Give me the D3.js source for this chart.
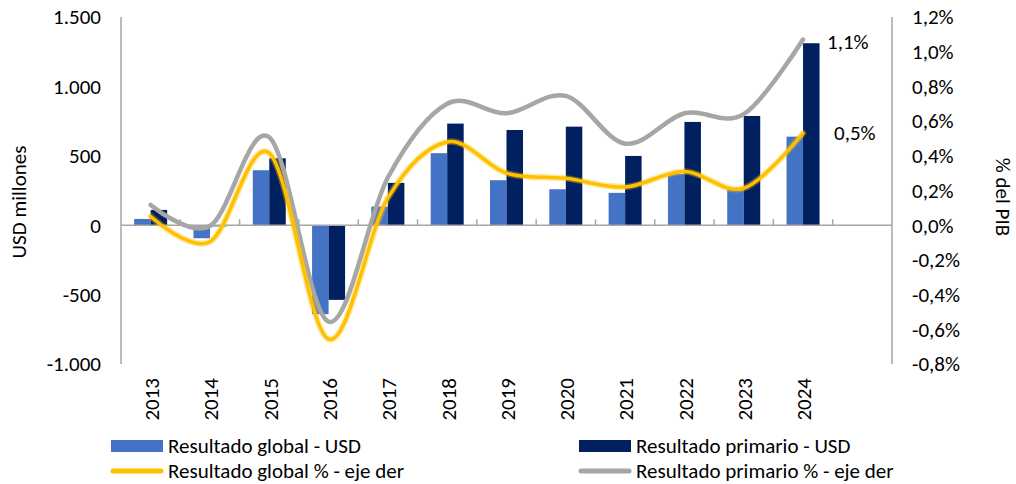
<!DOCTYPE html>
<html>
<head>
<meta charset="utf-8">
<script src="https://cdn.jsdelivr.net/npm/d3@7"></script>
<style>
    body { margin: 0; background: #fff; }
    text { font-family: Carlito, Lato, sans-serif; fill: #000; }
</style>
</head>
<body>
<svg width="1016" height="484"></svg>
<script>
// categories (last slot is empty in the original)
var years = ["2013", "2014", "2015", "2016", "2017", "2018", "2019", "2020", "2021", "2022", "2023", "2024", ""];
// USD millones
var globalUsd = [45, -94, 396, -641, 134, 519, 324, 259, 233, 370, 254, 638];
var primarioUsd = [110, -8, 482, -538, 305, 732, 686, 710, 499, 744, 787, 1311];
// % del PIB
var globalPct = [0.05, -0.095, 0.415, -0.657, 0.157, 0.48, 0.30, 0.27, 0.22, 0.31, 0.213, 0.53];
var primarioPct = [0.117, -0.005, 0.507, -0.556, 0.275, 0.70, 0.645, 0.745, 0.47, 0.645, 0.64, 1.07];

var leftTicks = [-1000, -500, 0, 500, 1000, 1500];
var rightTicks = [-0.8, -0.6, -0.4, -0.2, 0, 0.2, 0.4, 0.6, 0.8, 1.0, 1.2];

var colGlobal = "#4472c4", colPrim = "#002060", colYellow = "#ffc000", colGray = "#a6a6a6";

var svg = d3.select("svg");
var plotLeft = 121, plotRight = 892, plotTop = 17, plotBottom = 364;
var fs = "21px";

var x = d3.scaleBand().domain(years.map(function(d, i) { return i; })).range([plotLeft, plotRight]);
var yL = d3.scaleLinear().domain([-1000, 1500]).range([plotBottom, plotTop]);
var yR = d3.scaleLinear().domain([-0.8, 1.2]).range([plotBottom, plotTop]);
var bw = 16.5;

// spanish style numbers, plain hyphen for negatives
function fmtNum(v) {
    return d3.format(",")(v).replace(/,/g, ".").replace("\u2212", "-");
}
function fmtPct(v) {
    return d3.format(".1f")(v).replace(".", ",").replace("\u2212", "-") + "%";
}

// bars
svg.append("g").selectAll("rect")
    .data(globalUsd)
    .enter().append("rect")
    .attr("x", function(d, i) { return x(i) + x.bandwidth() / 2 - bw; })
    .attr("width", bw)
    .attr("y", function(d) { return yL(Math.max(0, d)); })
    .attr("height", function(d) { return Math.abs(yL(d) - yL(0)); })
    .attr("fill", colGlobal);

svg.append("g").selectAll("rect")
    .data(primarioUsd)
    .enter().append("rect")
    .attr("x", function(d, i) { return x(i) + x.bandwidth() / 2; })
    .attr("width", bw)
    .attr("y", function(d) { return yL(Math.max(0, d)); })
    .attr("height", function(d) { return Math.abs(yL(d) - yL(0)); })
    .attr("fill", colPrim);

// axes lines
var axisCol = "#a6a6a6";
svg.append("line").attr("x1", plotLeft).attr("x2", plotLeft).attr("y1", plotTop).attr("y2", plotBottom)
    .attr("stroke", axisCol).attr("stroke-width", 1.5);
svg.append("line").attr("x1", plotRight).attr("x2", plotRight).attr("y1", plotTop).attr("y2", plotBottom)
    .attr("stroke", axisCol).attr("stroke-width", 1.5);
svg.append("line").attr("x1", plotLeft).attr("x2", plotRight).attr("y1", yL(0)).attr("y2", yL(0))
    .attr("stroke", axisCol).attr("stroke-width", 1.5);

// category ticks on the zero line
svg.append("g").selectAll("line")
    .data(years.slice(1))
    .enter().append("line")
    .attr("x1", function(d, i) { return x(i + 1); })
    .attr("x2", function(d, i) { return x(i + 1); })
    .attr("y1", yL(0) - 6)
    .attr("y2", yL(0))
    .attr("stroke", axisCol).attr("stroke-width", 1.5);

// left tick labels
svg.append("g").selectAll("text")
    .data(leftTicks)
    .enter().append("text")
    .attr("x", 101)
    .attr("y", function(d) { return yL(d); })
    .attr("dy", "0.35em")
    .attr("text-anchor", "end")
    .style("font-size", fs)
    .text(fmtNum);

// right tick labels
svg.append("g").selectAll("text")
    .data(rightTicks)
    .enter().append("text")
    .attr("x", 912)
    .attr("y", function(d) { return yR(d); })
    .attr("dy", "0.35em")
    .style("font-size", fs)
    .text(fmtPct);

// year labels
svg.append("g").selectAll("text")
    .data(years)
    .enter().append("text")
    .attr("transform", function(d, i) { return "translate(" + (x(i) + x.bandwidth() / 2 + 1) + ",378) rotate(-90)"; })
    .attr("dy", "0.35em")
    .attr("text-anchor", "end")
    .style("font-size", fs)
    .text(function(d) { return d; });

// axis titles
svg.append("text")
    .attr("transform", "translate(19,202) rotate(-90)")
    .attr("dy", "0.35em")
    .attr("text-anchor", "middle")
    .style("font-size", fs)
    .text("USD millones");
svg.append("text")
    .attr("transform", "translate(1003,197) rotate(90)")
    .attr("dy", "0.35em")
    .attr("text-anchor", "middle")
    .style("font-size", fs)
    .text("% del PIB");

// lines
var line = d3.line()
    .x(function(d, i) { return x(i) + x.bandwidth() / 2; })
    .y(function(d) { return yR(d); })
    .curve(d3.curveCardinal.tension(0));

svg.append("path").datum(primarioPct)
    .attr("d", line)
    .attr("fill", "none")
    .attr("stroke", colGray)
    .attr("stroke-width", 4.5)
    .attr("stroke-linecap", "round");

svg.append("path").datum(globalPct)
    .attr("d", line)
    .attr("fill", "none")
    .attr("stroke", colYellow)
    .attr("stroke-opacity", 0.35)
    .attr("stroke-width", 6.5)
    .attr("stroke-linecap", "round");
svg.append("path").datum(globalPct)
    .attr("d", line)
    .attr("fill", "none")
    .attr("stroke", colYellow)
    .attr("stroke-width", 3.5)
    .attr("stroke-linecap", "round");

// data labels for last point
svg.append("text")
    .attr("x", 827).attr("y", yR(primarioPct[11]) + 2)
    .attr("dy", "0.35em")
    .style("font-size", fs)
    .text(fmtPct(primarioPct[11]));
svg.append("text")
    .attr("x", 834).attr("y", 133)
    .attr("dy", "0.35em")
    .style("font-size", fs)
    .text(fmtPct(globalPct[11]));

// legend
var legend = [
    {name: "Resultado global - USD", type: "rect", color: colGlobal, x: 111, y: 446},
    {name: "Resultado primario - USD", type: "rect", color: colPrim, x: 579, y: 446},
    {name: "Resultado global % - eje der", type: "line", color: colYellow, x: 111, y: 471},
    {name: "Resultado primario % - eje der", type: "line", color: colGray, x: 579, y: 471}
];
var lg = svg.append("g").selectAll("g")
    .data(legend)
    .enter().append("g")
    .attr("transform", function(d) { return "translate(" + d.x + "," + d.y + ")"; });

lg.filter(function(d) { return d.type == "rect"; })
    .append("rect")
    .attr("x", 0).attr("y", -6).attr("width", 52).attr("height", 12)
    .attr("fill", function(d) { return d.color; });
lg.filter(function(d) { return d.type == "line"; })
    .append("line")
    .attr("x1", 2).attr("x2", 50).attr("y1", 0).attr("y2", 0)
    .attr("stroke", function(d) { return d.color; })
    .attr("stroke-width", 5)
    .attr("stroke-linecap", "round");
lg.append("text")
    .attr("x", 57)
    .attr("dy", "0.35em")
    .style("font-size", fs)
    .text(function(d) { return d.name; });
</script>
</body>
</html>
